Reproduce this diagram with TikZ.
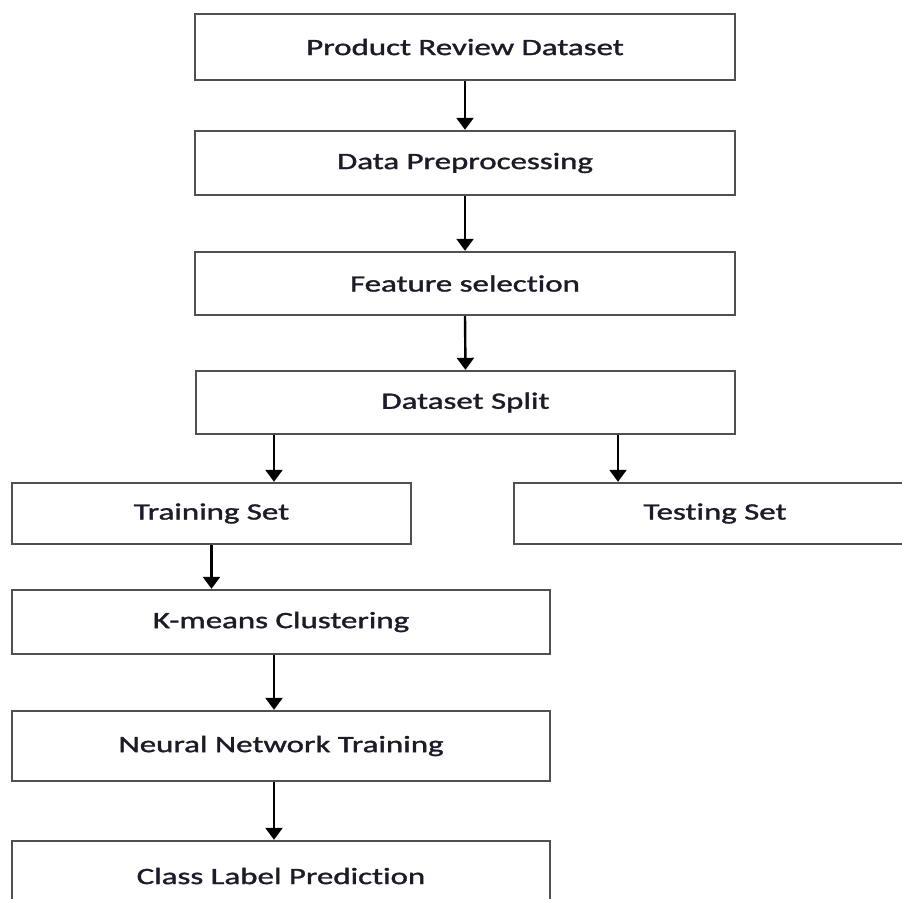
\documentclass[tikz,border=0pt]{standalone}
\usepackage{graphicx}
\usepackage{fontspec}
\setmainfont{Carlito}[Ligatures=NoCommon]
\newfontfamily\boxfont{Carlito}[Ligatures=NoCommon, FakeBold=1.2]
\usetikzlibrary{arrows.meta}
\definecolor{boxline}{HTML}{505050}
\definecolor{boxtext}{HTML}{1C1C28}
\newcommand\widetext[1]{\scalebox{1.4}[1]{#1}}
\begin{document}
\begin{tikzpicture}[x=1pt,y=-1pt,
  stepbox/.style={draw=boxline, line width=2.4pt, fill=white, inner sep=0pt,
    font=\boxfont\fontsize{23.5}{28}\selectfont, text=boxtext},
  arr/.style={draw=black, line width=2.4pt, -{Triangle[width=17pt,length=12pt]}}]
\useasboundingbox (0,0) rectangle (902,898);
\clip (0,0) rectangle (902,898);
\fill[white] (0,0) rectangle (902,898);
\node[stepbox, minimum width=540pt, minimum height=66pt] (n1) at (465,47) {\widetext{Product Review Dataset}};
\node[stepbox, minimum width=540pt, minimum height=64pt] (n2) at (465,163) {\widetext{Data Preprocessing}};
\node[stepbox, minimum width=540pt, minimum height=63pt] (n3) at (465,283.5) {\widetext{Feature selection}};
\node[stepbox, minimum width=539pt, minimum height=63pt] (n4) at (465.5,402.5) {\widetext{Dataset Split}};
\node[stepbox, minimum width=399pt, minimum height=61pt] (n5) at (211.5,513.5) {\widetext{Training Set}};
\node[stepbox, minimum width=402pt, minimum height=61pt] (n6) at (715,513.5) {\widetext{Testing Set}};
\node[stepbox, minimum width=538pt, minimum height=64pt] (n7) at (281,622) {\widetext{K-means Clustering}};
\node[stepbox, minimum width=538pt, minimum height=70pt] (n8) at (281,746) {\widetext{Neural Network Training}};
\node[stepbox, minimum width=538pt, minimum height=70pt] (n9) at (281,876) {\widetext{Class Label Prediction}};
\coordinate (cl) at (274,0);
\coordinate (cr) at (618,0);
\draw[arr] (n1.south) -- (n2.north);
\draw[arr] (n2.south) -- (n3.north);
\draw[arr] (n3.south) -- (n4.north);
\draw[arr] (n4.south -| cl) -- (n5.north -| cl);
\draw[arr] (n4.south -| cr) -- (n6.north -| cr);
\draw[arr] (n5.south) -- (n7.north -| n5.south);
\draw[arr] (n7.south -| cl) -- (n8.north -| cl);
\draw[arr] (n8.south -| cl) -- (n9.north -| cl);
\end{tikzpicture}
\end{document}
